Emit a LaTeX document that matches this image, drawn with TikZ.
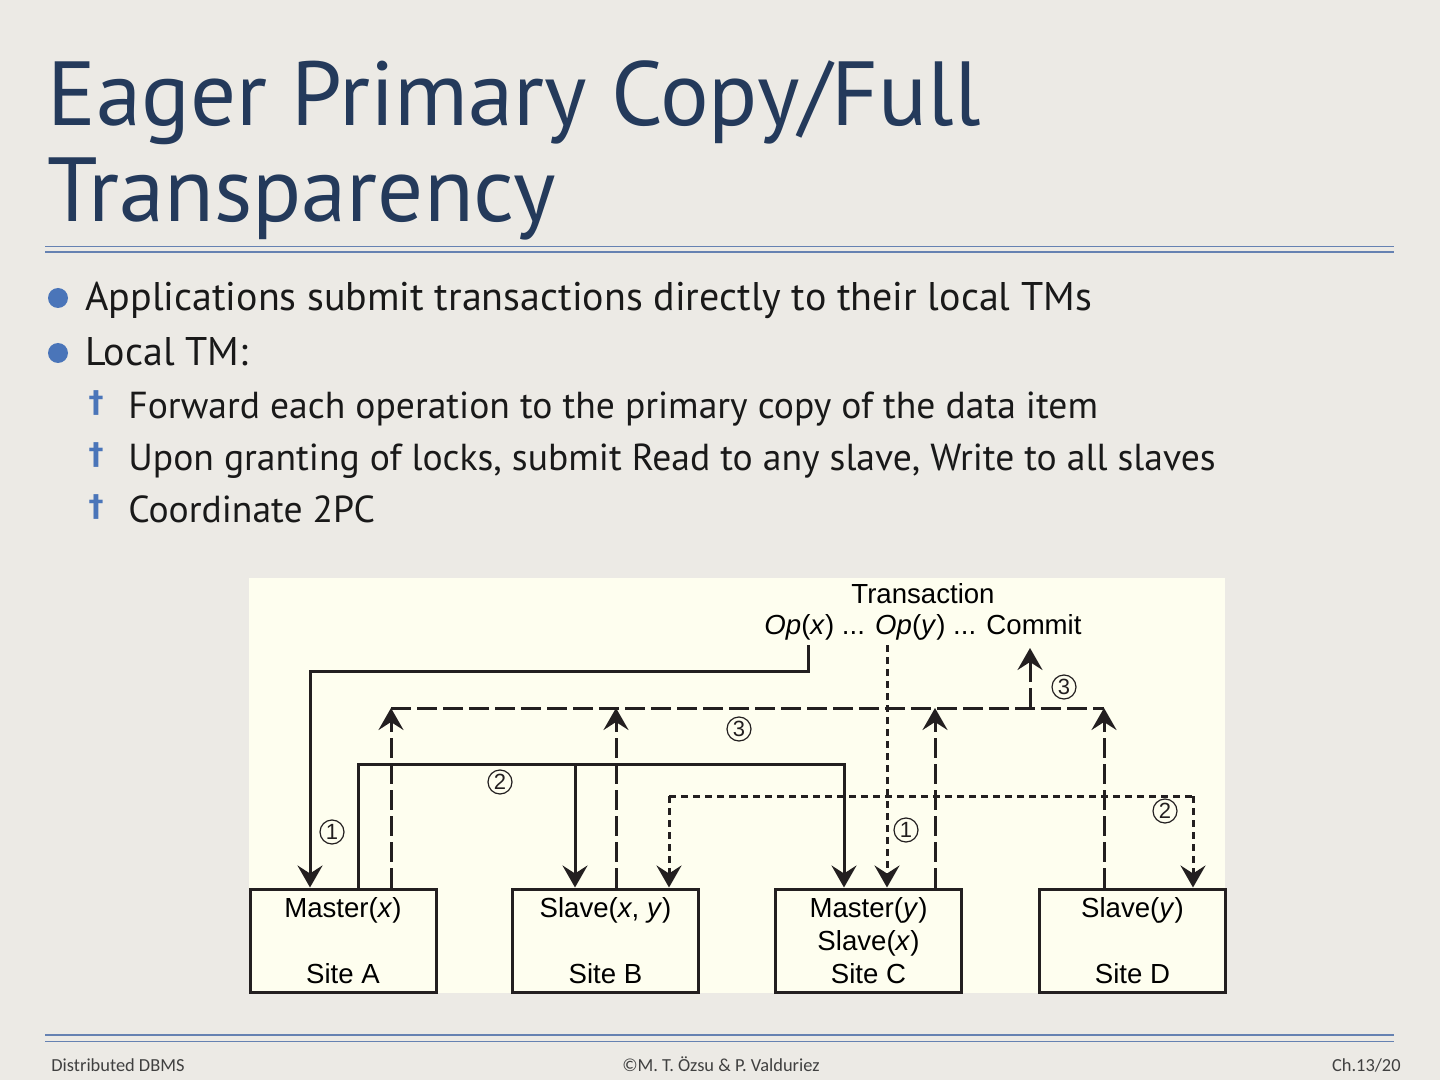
\documentclass[tikz,border=0pt]{standalone}
\usepackage{fontspec}
\setmainfont{PT Sans}
\newfontfamily\diagfont{Liberation Sans}
\newfontfamily\symfont{DejaVu Sans}
\newfontfamily\footfont{Carlito}
\usetikzlibrary{arrows.meta,calc,positioning}
\definecolor{parchment}{HTML}{ECEAE5}
\definecolor{cream}{HTML}{FEFEEF}
\definecolor{titleblue}{HTML}{243A5B}
\definecolor{ruleblue}{HTML}{6682B2}
\definecolor{bulletblue}{HTML}{4A75B9}
\definecolor{inkgray}{HTML}{231F20}

\begin{document}
\begin{tikzpicture}[x=0.5pt,y=-0.5pt,
 title/.style={anchor=base west,inner sep=0pt,font=\fontsize{45.5}{45.5}\selectfont,text=titleblue},
 body/.style={anchor=base west,inner sep=0pt,font=\fontsize{20}{20}\selectfont,text=black!90},
 sub/.style={anchor=base west,inner sep=0pt,font=\fontsize{18.8}{18.8}\selectfont,text=black!90},
 dot/.style={circle,fill=bulletblue,inner sep=0pt,minimum size=10pt},
 dagger/.style={font=\symfont\bfseries\fontsize{15}{15}\selectfont,text=bulletblue,inner sep=0pt},
 foot/.style={inner sep=0pt,font=\footfont\fontsize{9.2}{9.2}\selectfont,text=black!75},
 site/.style={draw=inkgray,line width=1.5pt,minimum width=93pt,minimum height=51.5pt,align=center,font=\diagfont\fontsize{13.8}{16.5}\selectfont,fill=cream,inner sep=0pt},
 lbl/.style={font=\diagfont\fontsize{13.8}{16.5}\selectfont,inner sep=0pt},
 num/.style={circle,draw=inkgray,line width=0.6pt,minimum size=12pt,inner sep=0pt,font=\diagfont\fontsize{11}{11}\selectfont,text=inkgray},
 link/.style={draw=inkgray,line width=1.5pt},
 ack/.style={link,dash pattern=on 10pt off 3pt},
 fwd/.style={link,dash pattern=on 3.5pt off 2.5pt},
 arr/.style={-{Stealth[length=11pt,width=12.5pt,inset=4pt]}}
]
\useasboundingbox (0,0) rectangle (1440,1080);
\fill[parchment] (0,0) rectangle (1440,1080);

\node[title] (title1) at (47,126) {Eager Primary Copy/Full};
\node[title] (title2) at (47,222) {Transparency};
\draw[ruleblue,line width=0.5pt] (45,247) -- (1394,247);
\draw[ruleblue,line width=1pt] (45,252.5) -- (1394,252.5);

\node[dot] (b1) at (58,298) {};
\node[body] (apps) at (85,311) {Applications submit transactions directly to their local TMs};
\node[dot] (b2) at (58,353) {};
\node[body] (localtm) at (85,366) {Local TM:};
\foreach \y/\txt [count=\i] in {419/Forward each operation to the primary copy of the data item,
 471/{Upon granting of locks, submit Read to any slave, Write to all slaves},
 523/Coordinate 2PC}{
 \node[dagger] (d\i) at (96,\y-16) {†};
 \node[sub] (item\i) at (128,\y) {\txt};
}

\fill[cream] (249,578) rectangle (1225,993);
\node[lbl] (txn) at (923,594) {Transaction};
\node[lbl] (ops) at (923,627) {\textit{Op}(\textit{x}) ... \textit{Op}(\textit{y}) ... Commit};

\node[site] (siteA) at (343,940.5) {Master(\textit{x})\\\strut\\Site A};
\node[site] (siteB) at (605.5,940.5) {Slave(\textit{x}, \textit{y})\\\strut\\Site B};
\node[site] (siteC) at (868.5,940.5) {Master(\textit{y})\\Slave(\textit{x})\\Site C};
\node[site] (siteD) at (1132.5,940.5) {Slave(\textit{y})\\\strut\\Site D};

\coordinate (opx) at (808,645);
\coordinate (opy) at (887,645);
\coordinate (fwdx) at (310,671);
\coordinate (lockx) at (358,764);
\coordinate (rdB) at (575,764);
\coordinate (wrC) at (844,764);
\coordinate (ackA) at (391,708);
\coordinate (ackB) at (616,708);
\coordinate (ackC) at (935,708);
\coordinate (ackD) at (1104,708);
\coordinate (cmt) at (1030,708);
\coordinate (cmttip) at (1030,648);
\coordinate (ryB) at (669,796);
\coordinate (ryD) at (1193,796);

\draw[link,arr] (opx) |- (fwdx) -- (fwdx |- siteA.north);
\draw[link,arr] (lockx |- siteA.north) -- (lockx) -- (wrC) -- (wrC |- siteC.north);
\draw[link,arr] (rdB) -- (rdB |- siteB.north);
\draw[fwd,arr] (opy) -- (opy |- siteC.north);
\draw[fwd] (ryB) -- (ryD);
\draw[fwd,arr] (ryB) -- (ryB |- siteB.north);
\draw[fwd,arr] (ryD) -- (ryD |- siteD.north);
\draw[ack] (ackA) -- (ackD);
\foreach \c/\s in {ackA/siteA,ackB/siteB,ackC/siteC,ackD/siteD}
 \draw[ack,arr] (\c |- \s.north) -- (\c);
\draw[ack,arr] (cmt) -- (cmttip);

\node[num] (n1a) at (332,832) {1};
\node[num] (n2a) at (500,782) {2};
\node[num] (n3a) at (739,729) {3};
\node[num] (n3b) at (1064,687) {3};
\node[num] (n1b) at (906,830) {1};
\node[num] (n2b) at (1165,811) {2};

\draw[ruleblue,line width=1pt] (45,1035) -- (1394,1035);
\draw[ruleblue,line width=0.5pt] (45,1041) -- (1394,1041);
\node[foot,anchor=base west] (fl) at (51,1071) {Distributed DBMS};
\node[foot,anchor=base] (fc) at (721,1071) {©M. T. Özsu \& P. Valduriez};
\node[foot,anchor=base east] (fr) at (1401,1071) {Ch.13/20};
\end{tikzpicture}
\end{document}
